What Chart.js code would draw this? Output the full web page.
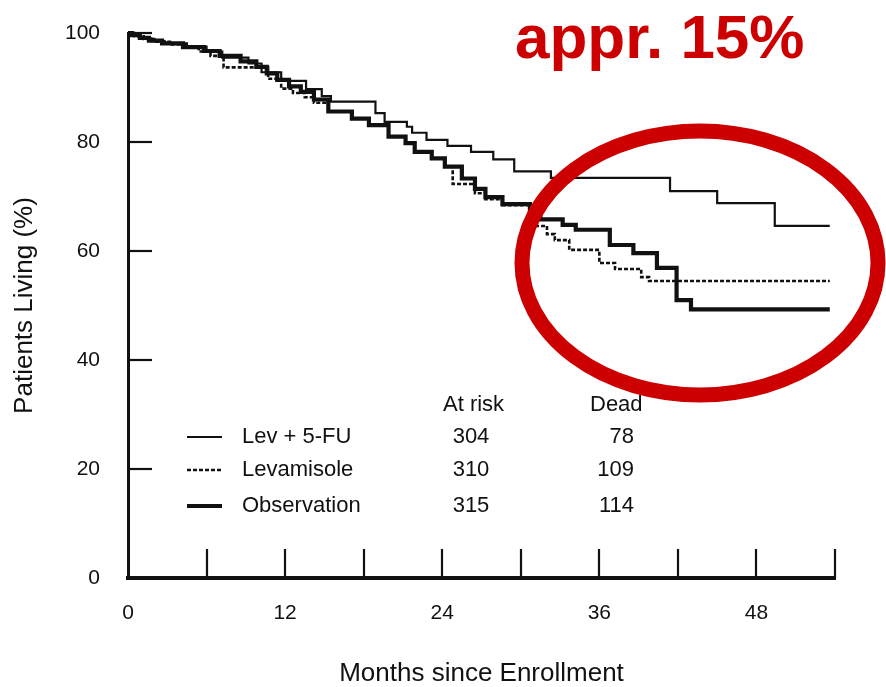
<!DOCTYPE html>
<html><head><meta charset="utf-8">
<script src="https://cdn.jsdelivr.net/npm/chart.js@4/dist/chart.umd.min.js"></script>
<style>html,body{margin:0;padding:0;background:#fff;}#wrap{width:886px;height:687px;}</style>
</head><body><div id="wrap"><canvas id="c" width="886" height="687"></canvas></div>
<script>
// ---- data ----
const seriesNames = ['Lev + 5-FU', 'Levamisole', 'Observation'];
const atRisk = [304, 310, 315];
const dead = [78, 109, 114];

const levFuMonths = [0,0.4,1.0,1.8,2.8,4.5,6.0,7.2,9.2,10.2,11.7,13.6,14.8,15.5,18.9,19.6,21.3,21.7,22.8,24.4,26.2,27.9,29.5,32.3,41.4,45.0,49.4,53.6];
const levFuSurv   = [100,99.5,99.0,98.5,98.1,97.5,96.6,95.5,94.4,92.8,91.2,89.7,88.4,87.4,85.3,83.7,82.8,81.7,80.4,79.3,78.2,76.8,74.6,73.4,71.0,68.8,64.6,64.6];

const levMonths = [0,0.5,1.2,2.0,3.2,4.4,5.4,6.3,7.3,10.7,11.7,12.6,13.5,14.2,15.3,17.1,18.4,19.9,21.2,21.9,23.2,24.2,24.8,26.5,27.3,28.6,30.7,31.2,32.0,32.6,33.7,36.0,37.2,39.2,39.8,53.6];
const levSurv   = [100,99.4,98.9,98.4,97.9,97.3,96.6,95.8,93.7,91.6,89.8,89.0,88.2,87.2,85.6,84.3,83.1,81.0,79.8,78.2,77.0,75.5,72.3,70.6,69.5,68.4,67.0,64.6,63.1,62.0,60.2,57.8,56.7,55.2,54.5,54.5];

const obsMonths = [0,0.3,0.9,1.6,2.6,4.2,5.8,7.0,8.6,9.8,10.6,11.4,12.3,13.2,14.2,15.3,17.1,18.4,19.9,21.2,21.9,23.2,24.2,25.5,26.5,27.3,28.6,30.7,31.5,33.2,34.2,36.8,38.6,40.4,41.9,43.0,53.6];
const obsSurv   = [100,99.6,99.1,98.6,98.1,97.4,96.7,95.8,94.8,93.8,92.6,91.4,90.2,89.2,87.8,85.6,84.3,83.1,81.0,79.8,78.2,77.0,75.5,73.3,71.4,69.9,68.6,67.0,65.8,64.8,63.9,61.1,59.6,56.9,51.0,49.3,49.3];

const xTickLabels = [0, 12, 24, 36, 48];
const xMinorTicks = [6, 12, 18, 24, 30, 36, 42, 48, 54];
const yTickValues = [0, 20, 40, 60, 80, 100];
const xTitle = 'Months since Enrollment';
const yTitle = 'Patients Living (%)';
const annotText = 'appr. 15%';
const headAtRisk = 'At risk';
const headDead = 'Dead';

// ---- styles ----
const INK = '#111';
const RED = '#cc0000';
const FONT = '"Liberation Sans", Arial, sans-serif';
const styles = [
  {borderWidth: 2.2, borderDash: []},
  {borderWidth: 2.6, borderDash: [4, 2]},
  {borderWidth: 4.2, borderDash: []}
];
const toPts = (m, s) => m.map((v, i) => ({x: v, y: s[i]}));
const seriesData = [toPts(levFuMonths, levFuSurv), toPts(levMonths, levSurv), toPts(obsMonths, obsSurv)];

const decor = {
  id: 'decor',
  afterDatasetsDraw(chart) {
    const {ctx, scales: {x, y}} = chart;
    ctx.save();
    ctx.strokeStyle = INK; ctx.lineWidth = 2.2; ctx.setLineDash([]);
    xMinorTicks.forEach(v => {
      const px = Math.round(x.getPixelForValue(v));
      ctx.beginPath(); ctx.moveTo(px, y.bottom); ctx.lineTo(px, y.bottom - 29); ctx.stroke();
    });
    yTickValues.filter(v => v > 0).forEach(v => {
      const py = Math.round(y.getPixelForValue(v));
      ctx.beginPath(); ctx.moveTo(x.left, py); ctx.lineTo(x.left + 24, py); ctx.stroke();
    });
    // legend table
    ctx.fillStyle = INK;
    ctx.font = '22px ' + FONT;
    ctx.textBaseline = 'middle';
    ctx.textAlign = 'left';
    ctx.fillText(headAtRisk, 443, 405);
    ctx.fillText(headDead, 590, 405);
    const rowsY = [437, 470, 506];
    seriesNames.forEach((name, i) => {
      const ry = rowsY[i];
      ctx.lineWidth = styles[i].borderWidth;
      ctx.setLineDash(styles[i].borderDash);
      ctx.beginPath(); ctx.moveTo(187, ry); ctx.lineTo(222, ry); ctx.stroke();
      ctx.setLineDash([]);
      ctx.textAlign = 'left'; ctx.fillText(name, 242, ry);
      ctx.textAlign = 'center'; ctx.fillText(String(atRisk[i]), 471, ry);
      ctx.textAlign = 'right'; ctx.fillText(String(dead[i]), 634, ry);
    });
    // annotation
    ctx.strokeStyle = RED; ctx.lineWidth = 15;
    ctx.beginPath(); ctx.ellipse(700, 263, 178, 132, 0, 0, 2 * Math.PI); ctx.stroke();
    ctx.fillStyle = RED; ctx.textAlign = 'left'; ctx.textBaseline = 'alphabetic';
    ctx.font = 'bold 62px ' + FONT;
    ctx.fillText(annotText, 515, 58);
    ctx.restore();
  }
};

new Chart(document.getElementById('c'), {
  type: 'scatter',
  data: {
    datasets: seriesNames.map((n, i) => ({
      label: n,
      data: seriesData[i],
      showLine: true,
      stepped: 'before',
      borderColor: INK,
      backgroundColor: INK,
      borderWidth: styles[i].borderWidth,
      borderDash: styles[i].borderDash,
      pointRadius: 0,
      pointHoverRadius: 0,
      fill: false,
      clip: 10
    }))
  },
  options: {
    responsive: false,
    animation: false,
    events: [],
    layout: {padding: {left: 0, right: 51, top: 33, bottom: 0}},
    plugins: {legend: {display: false}, tooltip: {enabled: false}},
    scales: {
      x: {
        type: 'linear', min: 0, max: 54,
        afterFit: s => { s.height = 109; s.paddingLeft = 0; s.paddingRight = 0; },
        afterBuildTicks: s => { s.ticks = xTickLabels.map(v => ({value: v})); },
        grid: {display: false, drawTicks: false},
        border: {display: true, width: 4, color: INK},
        ticks: {color: INK, padding: 23, font: {family: FONT, size: 21}, maxRotation: 0},
        title: {display: true, text: xTitle, color: INK, padding: {top: 0, bottom: 0}, font: {family: FONT, size: 26, lineHeight: 1.05}}
      },
      y: {
        type: 'linear', min: 0, max: 100,
        afterFit: s => { s.width = 128; s.paddingTop = 0; s.paddingBottom = 0; },
        afterBuildTicks: s => { s.ticks = yTickValues.map(v => ({value: v})); },
        grid: {display: false, drawTicks: false},
        border: {display: true, width: 3, color: INK},
        ticks: {color: INK, padding: 28, font: {family: FONT, size: 21}},
        title: {display: true, text: yTitle, color: INK, padding: {top: 9, bottom: 0}, font: {family: FONT, size: 26, lineHeight: 1.2}}
      }
    }
  },
  plugins: [decor]
});
</script></body></html>
